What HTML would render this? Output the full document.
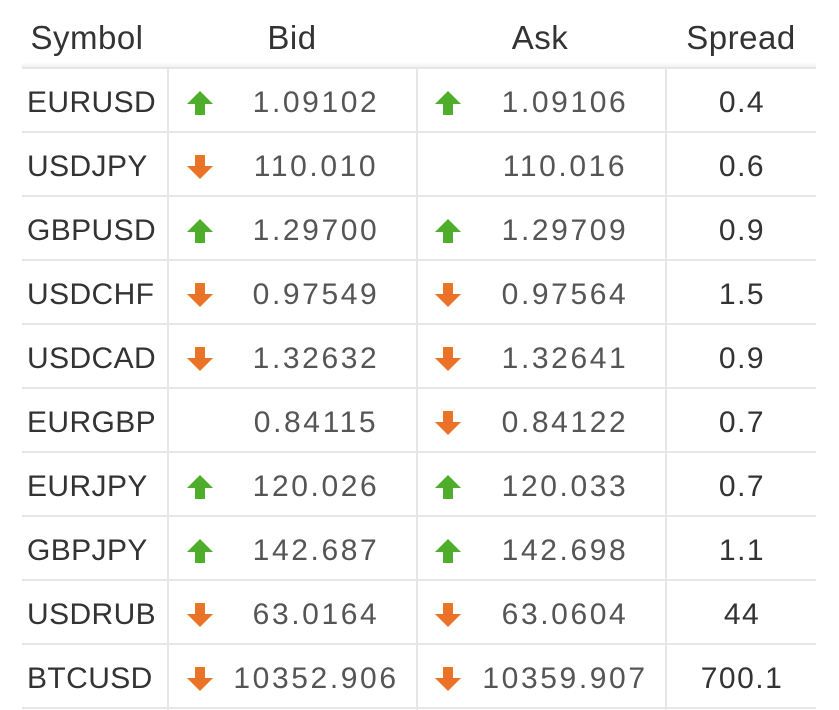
<!DOCTYPE html>
<html><head><meta charset="utf-8">
<style>
body{margin:0;background:#fff;width:839px;height:710px;overflow:hidden;font-family:"Liberation Sans",sans-serif;}
#t{position:relative;width:839px;height:710px;}
.h{position:absolute;font-size:33px;color:#333;transform:translateX(-50%);top:19px;letter-spacing:0.5px;}
.c{position:absolute;font-size:30px;line-height:34px;white-space:nowrap;}
.sym{color:#333;left:27px;letter-spacing:0.4px;}
.num{color:#555;transform:translateX(-50%);letter-spacing:2.6px;}
.sp{color:#333;transform:translateX(-50%);letter-spacing:1.5px;}
.hl{position:absolute;left:22px;width:794px;height:2px;background:#e6e6e6;}
.vl{position:absolute;width:2px;background:#e6e6e6;top:68px;height:642px;}
.ar{position:absolute;width:30px;height:30px;}
</style></head><body>
<div id="t">
<div class="h" style="left:87px">Symbol</div>
<div class="h" style="left:292px">Bid</div>
<div class="h" style="left:540px">Ask</div>
<div class="h" style="left:741px">Spread</div>
<div style="position:absolute;left:22px;width:794px;top:62px;height:6px;background:linear-gradient(#fff,#eee)"></div>
</div>
<script>
const symbols=["EURUSD","USDJPY","GBPUSD","USDCHF","USDCAD","EURGBP","EURJPY","GBPJPY","USDRUB","BTCUSD"];
const bids=["1.09102","110.010","1.29700","0.97549","1.32632","0.84115","120.026","142.687","63.0164","10352.906"];
const asks=["1.09106","110.016","1.29709","0.97564","1.32641","0.84122","120.033","142.698","63.0604","10359.907"];
const spreads=["0.4","0.6","0.9","1.5","0.9","0.7","0.7","1.1","44","700.1"];
const bidDir=["up","down","up","down","down","","up","up","down","down"];
const askDir=["up","","up","down","down","down","up","up","down","down"];
const t=document.getElementById('t');
const rowTop=i=>68+64*i;
function arrow(dir,cx,cy){
  const s=document.createElementNS('http://www.w3.org/2000/svg','svg');
  s.setAttribute('class','ar');
  
  
  s.setAttribute('viewBox','0 0 30 30');
  s.style.left=(cx-15)+'px';s.style.top=(cy-15)+'px';
  const p=document.createElementNS('http://www.w3.org/2000/svg','path');
  p.setAttribute('d',dir==='up'?'M15 3 L28 16 L20 16 L20 27 L10 27 L10 16 L2 16 Z':'M15 27 L28 14 L20 14 L20 3 L10 3 L10 14 L2 14 Z');
  p.setAttribute('fill',dir==='up'?'#4dae2c':'#ea7328');
  s.appendChild(p);t.appendChild(s);
}
function cell(cls,txt,x,y,name){
  const d=document.createElement('div');
  d.className='c '+cls;d.textContent=txt;
  if(x!==null)d.style.left=x+'px';
  d.style.top=y+'px';
  
  
  t.appendChild(d);
}
for(let i=0;i<=10;i++){
  const l=document.createElement('div');l.className='hl';l.style.top=(rowTop(i)-1)+'px';
  
  
  t.appendChild(l);
}
[167,416,665].forEach(x=>{const v=document.createElement('div');v.className='vl';v.style.left=x+'px';
  
  
  t.appendChild(v);});
symbols.forEach((s,i)=>{
  const y=rowTop(i)+18, cy=rowTop(i)+35;
  cell('sym',s,null,y,'symbol-'+s.toLowerCase());
  cell('num',bids[i],316,y,'bid-'+s.toLowerCase());
  cell('num',asks[i],565,y,'ask-'+s.toLowerCase());
  cell('sp',spreads[i],742,y,'spread-'+s.toLowerCase());
  if(bidDir[i])arrow(bidDir[i],200,cy);
  if(askDir[i])arrow(askDir[i],448,cy);
});
</script>
</body></html>
